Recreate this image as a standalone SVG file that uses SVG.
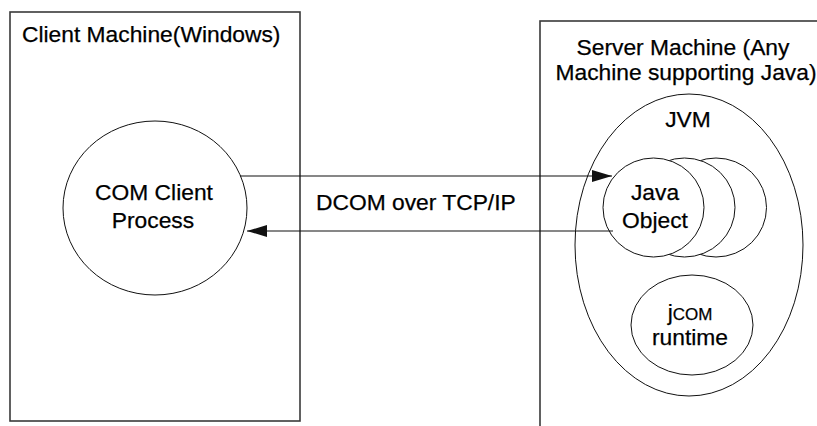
<svg xmlns="http://www.w3.org/2000/svg" width="817" height="426" viewBox="0 0 817 426">
<style>
.box{fill:#fff;stroke:#3a3a3a;stroke-width:1.6}
.sh{fill:#fff;stroke:#111;stroke-width:1}
.t{font-family:"Liberation Sans",Arial,sans-serif;font-size:22.8px;fill:#000;stroke:#000;stroke-width:0.25}
.m{text-anchor:middle}
.c{stroke:#111;stroke-width:1.2;fill:none}
</style>
<defs>
<marker id="ah" markerWidth="20" markerHeight="12" refX="20" refY="6" orient="auto" markerUnits="userSpaceOnUse">
<path d="M0,0 L20,6 L0,12 z" fill="#111"/>
</marker>
</defs>
<rect width="817" height="426" fill="#fff"/>
<g id="client-machine">
<rect class="box" x="10" y="12" width="290" height="409"/>
<text class="t" x="22" y="42">Client Machine(Windows)</text>
</g>
<g id="server-machine">
<rect class="box" x="540" y="21" width="300" height="420"/>
<text class="t m" x="683" y="55">Server Machine (Any</text>
<text class="t m" x="686" y="80">Machine supporting Java)</text>
</g>
<g id="com-client">
<ellipse class="sh" cx="155" cy="208" rx="92" ry="87"/>
<text class="t m" x="154" y="200">COM Client</text>
<text class="t m" x="153" y="228">Process</text>
</g>
<g id="jvm">
<ellipse class="sh" cx="689" cy="245" rx="114" ry="151"/>
<text class="t m" x="688" y="127">JVM</text>
</g>
<g id="java-object">
<ellipse class="sh" cx="716" cy="207.5" rx="50.5" ry="49.5"/>
<ellipse class="sh" cx="684.5" cy="207.5" rx="50.5" ry="49.5"/>
<ellipse class="sh" cx="653.5" cy="207.5" rx="50.5" ry="49.5"/>
<text class="t m" x="655" y="200">Java</text>
<text class="t m" x="655" y="228">Object</text>
</g>
<g id="jcom-runtime">
<ellipse class="sh" cx="692" cy="325" rx="61" ry="50"/>
<text class="t m" x="690" y="320">j<tspan font-size="17">COM</tspan></text>
<text class="t m" x="690" y="345">runtime</text>
</g>
<g id="connectors">
<line class="c" x1="240" y1="176" x2="612" y2="176" marker-end="url(#ah)"/>
<line class="c" x1="613" y1="231" x2="247" y2="231" marker-end="url(#ah)"/>
<text class="t" x="316" y="210">DCOM over TCP/IP</text>
</g>
</svg>
